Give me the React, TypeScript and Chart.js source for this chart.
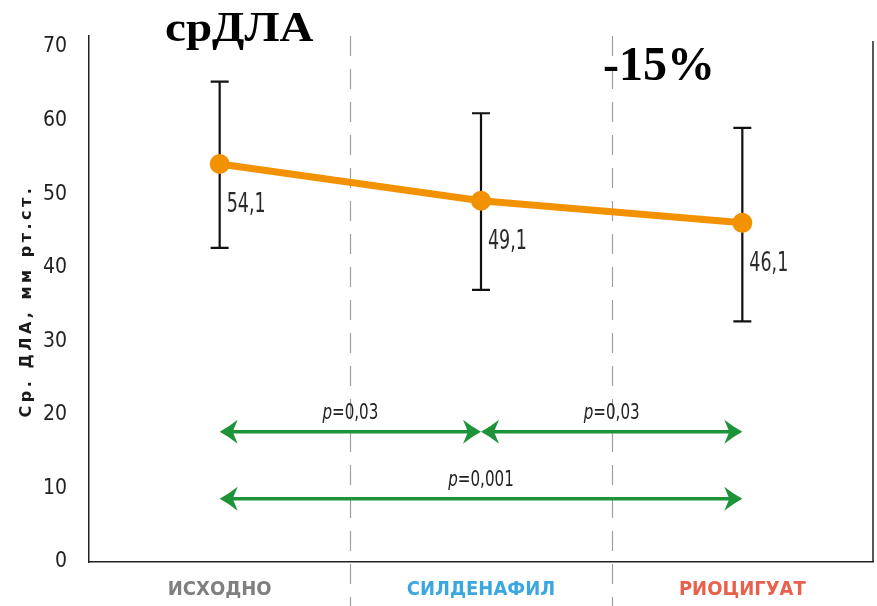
import React, { useEffect, useRef } from 'react';
import { Chart, registerables } from 'chart.js';

Chart.register(...registerables);

const categories = ['ИСХОДНО', 'СИЛДЕНАФИЛ', 'РИОЦИГУАТ'];
const categoryColors = ['#7f7f7f', '#3aa8df', '#e8614d'];
const meanValues = [54.1, 49.1, 46.1];
const valueLabels = ['54,1', '49,1', '46,1'];
const errorHigh = [65.3, 61.0, 59.0];
const errorLow = [42.7, 37.0, 32.7];
const yTicks = [0, 10, 20, 30, 40, 50, 60, 70];
const comparisonFrom = [0, 1, 0];
const comparisonTo = [1, 2, 2];
const comparisonLevel = [17.7, 17.7, 8.6];
const comparisonP = ['0,03', '0,03', '0,001'];
const titleText = 'срДЛА';
const changeText = '-15%';
const yAxisTitle = 'Ср. ДЛА, мм рт.ст.';

const NARROW = "'DejaVu Sans Condensed', 'DejaVu Sans', sans-serif";
const SERIF = "'Liberation Serif', 'DejaVu Serif', serif";
const ORANGE = '#f39200';
const GREEN = '#1e9438';

function narrowText(
  ctx: CanvasRenderingContext2D,
  text: string,
  x: number,
  y: number,
  font: string,
  sx: number,
  align: 'left' | 'center' = 'left'
) {
  ctx.save();
  ctx.font = font;
  const w = ctx.measureText(text).width * sx;
  const startX = align === 'center' ? x - w / 2 : x;
  ctx.translate(startX, y);
  ctx.scale(sx, 1);
  ctx.textAlign = 'left';
  ctx.fillText(text, 0, 0);
  ctx.restore();
  return w;
}

function arrowHead(ctx: CanvasRenderingContext2D, tipX: number, y: number, dir: number) {
  const L = 18, W = 12, notch = 5;
  ctx.beginPath();
  ctx.moveTo(tipX, y);
  ctx.quadraticCurveTo(tipX - dir * L * 0.5, y - W * 0.4, tipX - dir * L, y - W);
  ctx.lineTo(tipX - dir * (L - notch), y);
  ctx.lineTo(tipX - dir * L, y + W);
  ctx.quadraticCurveTo(tipX - dir * L * 0.5, y + W * 0.4, tipX, y);
  ctx.closePath();
  ctx.fill();
}

const decorPlugin = {
  id: 'decor',
  beforeDatasetsDraw(chart: any) {
    const { ctx, chartArea, scales } = chart;
    const xs = scales.x, ys = scales.y;
    ctx.save();
    // dashed separators between categories
    ctx.strokeStyle = '#a0a0a0';
    ctx.lineWidth = 1.2;
    ctx.setLineDash([20, 13]);
    for (let i = 0; i < categories.length - 1; i++) {
      const x = Math.round((xs.getPixelForValue(i) + xs.getPixelForValue(i + 1)) / 2) + 0.5;
      ctx.beginPath();
      ctx.moveTo(x, chartArea.top);
      ctx.lineTo(x, chart.height);
      ctx.stroke();
    }
    ctx.setLineDash([]);
    // right border
    ctx.strokeStyle = '#222';
    ctx.lineWidth = 1.5;
    ctx.beginPath();
    ctx.moveTo(chartArea.right, chartArea.top + 5);
    ctx.lineTo(chartArea.right, chartArea.bottom);
    ctx.stroke();
    // error bars
    ctx.strokeStyle = '#111';
    ctx.lineWidth = 2.2;
    for (let i = 0; i < meanValues.length; i++) {
      const x = xs.getPixelForValue(i);
      const yh = ys.getPixelForValue(errorHigh[i]);
      const yl = ys.getPixelForValue(errorLow[i]);
      ctx.beginPath();
      ctx.moveTo(x, yh);
      ctx.lineTo(x, yl);
      ctx.moveTo(x - 9, yh);
      ctx.lineTo(x + 9, yh);
      ctx.moveTo(x - 9, yl);
      ctx.lineTo(x + 9, yl);
      ctx.stroke();
    }
    // comparison arrows
    for (let k = 0; k < comparisonFrom.length; k++) {
      const x1 = xs.getPixelForValue(comparisonFrom[k]);
      const x2 = xs.getPixelForValue(comparisonTo[k]);
      const y = ys.getPixelForValue(comparisonLevel[k]);
      ctx.fillStyle = GREEN;
      ctx.strokeStyle = GREEN;
      ctx.lineWidth = 3.5;
      ctx.beginPath();
      ctx.moveTo(x1 + 10, y);
      ctx.lineTo(x2 - 10, y);
      ctx.stroke();
      arrowHead(ctx, x1, y, -1);
      arrowHead(ctx, x2, y, 1);
      // label
      const cx = (x1 + x2) / 2;
      const sx = 0.8;
      const fI = `italic 21px ${NARROW}`;
      const fN = `21px ${NARROW}`;
      ctx.font = fI;
      const wp = ctx.measureText('p').width * sx;
      ctx.font = fN;
      const rest = '=' + comparisonP[k];
      const wr = ctx.measureText(rest).width * sx;
      const start = cx - (wp + wr) / 2;
      ctx.fillStyle = '#222';
      ctx.textBaseline = 'alphabetic';
      narrowText(ctx, 'p', start, y - 13, fI, sx);
      narrowText(ctx, rest, start + wp, y - 13, fN, sx);
    }
    ctx.restore();
  },
  afterDatasetsDraw(chart: any) {
    const { ctx, scales } = chart;
    const xs = scales.x, ys = scales.y;
    ctx.save();
    // value labels
    ctx.fillStyle = '#2a2a2a';
    ctx.textBaseline = 'middle';
    for (let i = 0; i < meanValues.length; i++) {
      const x = xs.getPixelForValue(i);
      const y = ys.getPixelForValue(meanValues[i]);
      narrowText(ctx, valueLabels[i], x + 7, y + 41, `27px ${NARROW}`, 0.72);
    }
    // titles
    ctx.fillStyle = '#000';
    ctx.textBaseline = 'alphabetic';
    narrowText(ctx, titleText, 165, 41, `bold 42px ${SERIF}`, 1.12);
    narrowText(ctx, changeText, 603, 80, `bold 48px ${SERIF}`, 1.0);
    // y axis title
    ctx.translate(27, 301);
    ctx.rotate(-Math.PI / 2);
    ctx.font = `bold 16px 'DejaVu Sans', sans-serif`;
    (ctx as any).letterSpacing = '3.5px';
    ctx.textAlign = 'center';
    ctx.textBaseline = 'middle';
    ctx.fillStyle = '#1a1a1a';
    ctx.fillText(yAxisTitle, 0, 0);
    ctx.restore();
  },
};

export default function App() {
  const ref = useRef<HTMLCanvasElement | null>(null);
  useEffect(() => {
    if (!ref.current) return;
    const chart = new Chart(ref.current, {
      type: 'line',
      data: {
        labels: categories,
        datasets: [
          {
            data: meanValues,
            borderColor: ORANGE,
            backgroundColor: ORANGE,
            borderWidth: 7,
            pointRadius: 10,
            pointBackgroundColor: ORANGE,
            pointBorderWidth: 0,
            tension: 0,
          },
        ],
      },
      options: {
        animation: false,
        responsive: false,
        maintainAspectRatio: false,
        layout: { autoPadding: false, padding: { top: 36, right: 4, left: 0, bottom: 0 } },
        plugins: { legend: { display: false }, tooltip: { enabled: false } },
        scales: {
          x: {
            type: 'category',
            offset: true,
            grid: { display: false, drawTicks: false },
            border: { display: true, color: '#222', width: 1.5 },
            ticks: {
              color: categoryColors,
              padding: 16,
              font: { family: NARROW, size: 20, weight: 'bold' },
            },
            afterFit: (s: any) => { s.height = 44; },
          },
          y: {
            min: 0,
            max: 71.5,
            grid: { display: false, drawTicks: false },
            border: { display: true, color: '#222', width: 1.5 },
            ticks: {
              color: '#222',
              padding: 22,
              font: { family: NARROW, size: 21 },
            },
            afterBuildTicks: (s: any) => { s.ticks = yTicks.map((v) => ({ value: v })); },
            afterFit: (s: any) => { s.width = 89; },
          },
        },
      },
      plugins: [decorPlugin],
    } as any);
    return () => chart.destroy();
  }, []);
  return (
    <div style={{ position: 'fixed', left: 0, top: 0, width: 877, height: 606, background: '#fff' }}>
      <canvas ref={ref} width={877} height={606} style={{ width: 877, height: 606, display: 'block' }} />
    </div>
  );
}
